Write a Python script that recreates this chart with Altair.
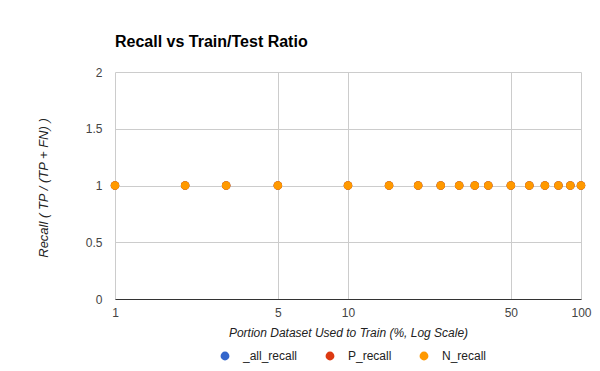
import altair as alt
import pandas as pd

# ---- data ----
portion = [1, 2, 3, 5, 10, 15, 20, 25, 30, 35, 40, 50, 60, 70, 80, 90, 100]
all_recall = [1, 1, 1, 1, 1, 1, 1, 1, 1, 1, 1, 1, 1, 1, 1, 1, 1]
p_recall = [1, 1, 1, 1, 1, 1, 1, 1, 1, 1, 1, 1, 1, 1, 1, 1, 1]
n_recall = [1, 1, 1, 1, 1, 1, 1, 1, 1, 1, 1, 1, 1, 1, 1, 1, 1]
series_names = ["_all_recall", "P_recall", "N_recall"]
series_colors = ["#3366cc", "#dc3912", "#ff9900"]
x_ticks = [1, 5, 10, 50, 100]
y_ticks = [0, 0.5, 1, 1.5, 2]

rows = []
for k, (name, vals) in enumerate(zip(series_names, [all_recall, p_recall, n_recall])):
    for px, v in zip(portion, vals):
        rows.append({"portion": px, "recall": v, "series": name, "draw": k})
df = pd.DataFrame(rows)

FONT = "Liberation Sans"

chart = alt.Chart(df).mark_circle(size=72, opacity=1).encode(
    x=alt.X(
        "portion:Q",
        scale=alt.Scale(type="log", domain=[1, 100], nice=False),
        axis=alt.Axis(
            values=x_ticks, format="~g",
            title="Portion Dataset Used to Train (%, Log Scale)",
            titleFontStyle="italic", titleFontWeight="normal", titleFontSize=12,
            titleColor="#222222", titlePadding=9,
            labelFontSize=12, labelColor="#444444", labelPadding=8,
            tickSize=0, ticks=False, labelOverlap=False, labelBound=False, labelFlush=False,
            domainColor="#333333", domainWidth=1,
            gridColor="#cccccc", gridWidth=1,
        ),
    ),
    y=alt.Y(
        "recall:Q",
        scale=alt.Scale(domain=[0, 2], nice=False),
        axis=alt.Axis(
            values=y_ticks, format="~g",
            title="Recall ( TP / (TP + FN) )",
            titleFontStyle="italic", titleFontWeight="normal", titleFontSize=13,
            titleColor="#222222", titleX=-72, titleY=115.5, titleBaseline="middle",
            labelFontSize=12, labelColor="#444444", labelPadding=13,
            tickSize=0, ticks=False, domain=False,
            gridColor="#cccccc", gridWidth=1,
        ),
    ),
    color=alt.Color(
        "series:N",
        scale=alt.Scale(domain=series_names, range=series_colors),
        legend=alt.Legend(
            title=None, orient="none", direction="horizontal",
            legendX=104, legendY=278,
            symbolType="circle", symbolSize=78, symbolStrokeWidth=0,
            labelFontSize=12, labelColor="#222222", labelOffset=12,
            columnPadding=26, padding=0,
        ),
    ),
    order=alt.Order("draw:Q"),
).properties(
    width=466,
    height=227,
    padding={"left": 107, "top": 64, "right": 11, "bottom": 64},
    autosize=alt.AutoSizeParams(type="none"),
    title=alt.TitleParams(
        "Recall vs Train/Test Ratio", anchor="start", frame="group", fontSize=16,
        fontWeight="bold", color="#000000", font=FONT, offset=3, dx=0,
        baseline="alphabetic",
    ),
).configure(
    font=FONT,
).configure_axis(
    labelFont=FONT, titleFont=FONT,
).configure_legend(
    labelFont=FONT,
).configure_view(
    strokeWidth=0,
)

chart.save("out.html", embed_options={"renderer": "svg", "actions": False})
